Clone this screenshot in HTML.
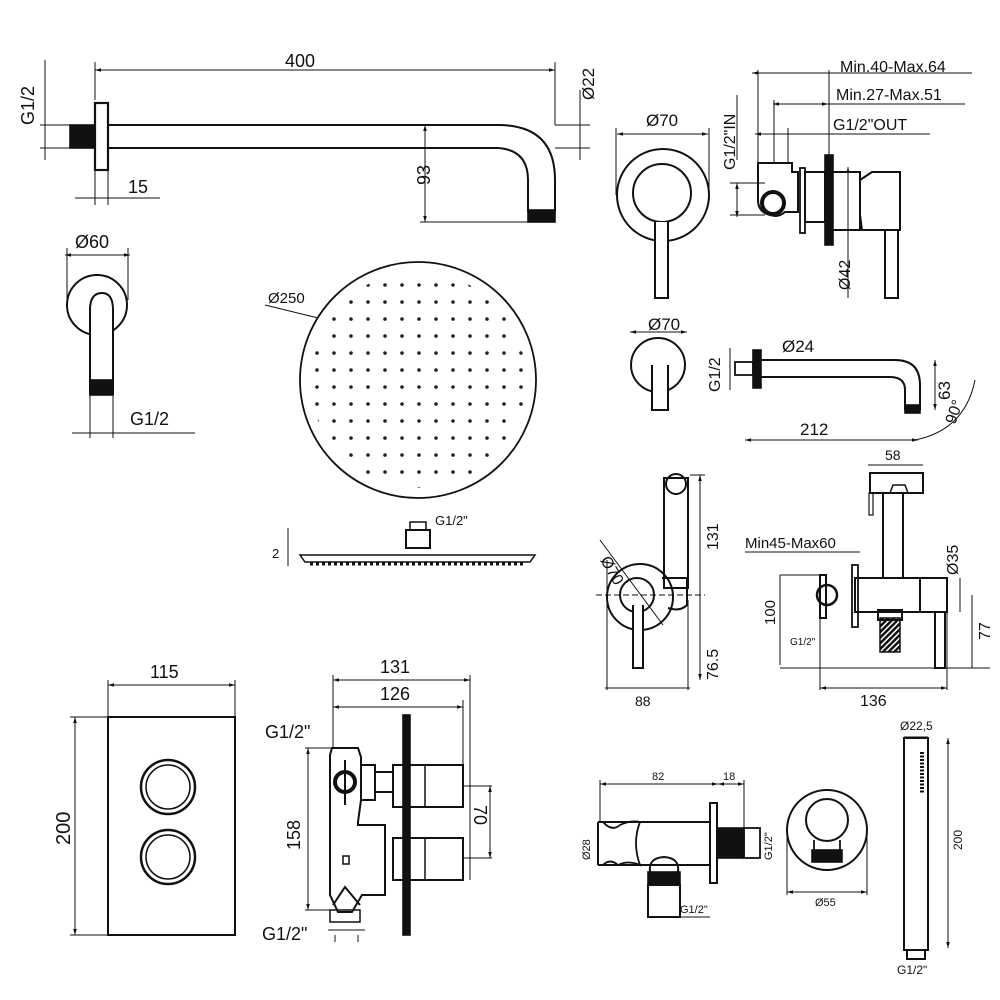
<!DOCTYPE html>
<html><head><meta charset="utf-8"><style>
html,body{margin:0;padding:0;background:#fff;width:1000px;height:1000px;overflow:hidden}
svg{display:block}
text{font-family:"Liberation Sans",sans-serif;fill:#111}
</style></head><body>
<svg width="1000" height="1000" viewBox="0 0 1000 1000" xmlns="http://www.w3.org/2000/svg">
<defs>
<marker id="a" viewBox="0 0 10 10" refX="10" refY="5" markerWidth="6" markerHeight="6" orient="auto-start-reverse"><path d="M0,2 L10,5 L0,8z" fill="#111"/></marker>
<pattern id="dots" width="17" height="17" patternUnits="userSpaceOnUse" x="3" y="5"><circle cx="8" cy="8" r="1.8" fill="#222"/></pattern>
<pattern id="hat" width="4" height="4" patternUnits="userSpaceOnUse" patternTransform="rotate(45)"><rect width="2.5" height="4" fill="#111"/></pattern>
<clipPath id="hc"><circle cx="418" cy="380" r="108"/></clipPath>
</defs>
<g stroke="#111" fill="none" stroke-width="1.6">
<!-- shower arm -->
<line x1="95" y1="70" x2="555" y2="70" stroke-width="1" marker-start="url(#a)" marker-end="url(#a)"/>
<line x1="95" y1="62" x2="95" y2="100" stroke-width="1"/><line x1="555" y1="62" x2="555" y2="125" stroke-width="1"/>
<rect x="70" y="125" width="25" height="23" fill="#111"/>
<rect x="95" y="103" width="13" height="67" stroke-width="2.2"/>
<path d="M108 125 H498 Q555 125 555 180 V212 M108 148 H498 Q528 150 528 180 V212" stroke-width="2"/>
<rect x="528" y="210" width="27" height="12" fill="#111"/>
<line x1="425" y1="125" x2="425" y2="222" stroke-width="1" marker-start="url(#a)" marker-end="url(#a)"/>
<line x1="420" y1="222" x2="528" y2="222" stroke-width="1"/>
<line x1="40" y1="125" x2="70" y2="125" stroke-width="1"/><line x1="40" y1="148" x2="70" y2="148" stroke-width="1"/>
<line x1="45" y1="60" x2="45" y2="160" stroke-width="1"/>
<line x1="580" y1="90" x2="580" y2="160" stroke-width="1"/>
<line x1="555" y1="125" x2="590" y2="125" stroke-width="1"/><line x1="555" y1="148" x2="590" y2="148" stroke-width="1"/>
<line x1="95" y1="170" x2="95" y2="205" stroke-width="1"/><line x1="108" y1="170" x2="108" y2="205" stroke-width="1"/>
<line x1="75" y1="198" x2="160" y2="198" stroke-width="1"/>
<!-- bracket -->
<line x1="65" y1="255" x2="130" y2="255" stroke-width="1" marker-start="url(#a)" marker-end="url(#a)"/>
<line x1="67" y1="248" x2="67" y2="300" stroke-width="1"/><line x1="128" y1="248" x2="128" y2="300" stroke-width="1"/>
<circle cx="97" cy="305" r="30" stroke-width="2"/>
<path d="M90 395 V310 Q90 293 102 293 Q113 293 113 310 V395" stroke-width="2" fill="#fff"/>
<rect x="90" y="380" width="23" height="15" fill="#111"/>
<line x1="90" y1="395" x2="90" y2="438" stroke-width="1"/><line x1="113" y1="395" x2="113" y2="438" stroke-width="1"/>
<line x1="72" y1="433" x2="195" y2="433" stroke-width="1"/>
<!-- head -->
<circle cx="418" cy="380" r="118" stroke-width="1.8"/>
<rect x="300" y="262" width="236" height="236" fill="url(#dots)" stroke="none" clip-path="url(#hc)"/>
<line x1="265" y1="305" x2="318" y2="318" stroke-width="1"/>
<path d="M300 555 H535 L530 562 H305 Z" stroke-width="1.5"/>
<line x1="310" y1="564" x2="525" y2="564" stroke-width="3" stroke-dasharray="3,3"/>
<rect x="406" y="530" width="24" height="18" stroke-width="2"/>
<rect x="410" y="522" width="16" height="8" stroke-width="1.5"/>
<line x1="288" y1="528" x2="288" y2="566" stroke-width="1"/>
<!-- mixer front -->
<line x1="617" y1="134" x2="708" y2="134" stroke-width="1" marker-start="url(#a)" marker-end="url(#a)"/>
<line x1="616" y1="128" x2="616" y2="195" stroke-width="1"/><line x1="709" y1="128" x2="709" y2="195" stroke-width="1"/>
<circle cx="663" cy="195" r="46" stroke-width="2"/><circle cx="662" cy="193" r="29" stroke-width="2"/>
<path d="M655 222 V298 H668 V222" stroke-width="2" fill="#fff"/>
<!-- mixer side -->
<line x1="752" y1="73" x2="830" y2="73" stroke-width="1" marker-start="url(#a)"/>
<line x1="830" y1="73" x2="972" y2="73" stroke-width="1"/>
<line x1="773" y1="104" x2="828" y2="104" stroke-width="1" marker-start="url(#a)" marker-end="url(#a)"/>
<line x1="828" y1="104" x2="965" y2="104" stroke-width="1"/>
<line x1="755" y1="134" x2="790" y2="134" stroke-width="1" marker-start="url(#a)"/>
<line x1="790" y1="134" x2="930" y2="134" stroke-width="1"/>
<line x1="758" y1="70" x2="758" y2="163" stroke-width="1"/><line x1="774" y1="100" x2="774" y2="163" stroke-width="1"/><line x1="788" y1="128" x2="788" y2="163" stroke-width="1"/><line x1="829" y1="70" x2="829" y2="155" stroke-width="1"/>
<line x1="737" y1="183" x2="737" y2="217" stroke-width="1" marker-start="url(#a)" marker-end="url(#a)"/>
<line x1="737" y1="95" x2="737" y2="160" stroke-width="1"/>
<line x1="730" y1="183" x2="765" y2="183" stroke-width="1"/><line x1="730" y1="215" x2="765" y2="215" stroke-width="1"/>
<path d="M758 163 H792 V172 H798 V212 H785 Q778 218 770 215 Q758 212 758 200 Z" stroke-width="2"/>
<circle cx="773" cy="203" r="11" stroke-width="4"/>
<rect x="800" y="168" width="5" height="65" stroke-width="1.8"/>
<rect x="805" y="172" width="20" height="50" stroke-width="2"/>
<rect x="825" y="155" width="8" height="90" fill="#111"/>
<path d="M833 172 H860 V230 H833" stroke-width="2"/>
<path d="M860 180 L872 172 H900 V230 H862 L860 215" stroke-width="2"/>
<path d="M885 230 V298 H898 V230" stroke-width="2"/>
<line x1="848" y1="167" x2="848" y2="298" stroke-width="1" marker-start="url(#a)"/>
<!-- small mixer 70 -->
<line x1="630" y1="332" x2="687" y2="332" stroke-width="1" marker-start="url(#a)" marker-end="url(#a)"/>
<circle cx="658" cy="365" r="27" stroke-width="2"/>
<path d="M652 365 V410 H668 V365" stroke-width="2" fill="#fff"/>
<!-- spout -->
<line x1="730" y1="348" x2="730" y2="390" stroke-width="1"/>
<rect x="735" y="362" width="18" height="13" stroke-width="1.8"/>
<rect x="753" y="350" width="8" height="38" fill="#111"/>
<path d="M761 360 H895 Q920 360 920 385 V410 M761 377 H890 Q905 377 905 390 V410" stroke-width="2"/>
<rect x="905" y="405" width="15" height="8" fill="#111"/>
<line x1="745" y1="440" x2="918" y2="440" stroke-width="1" marker-start="url(#a)" marker-end="url(#a)"/>
<line x1="935" y1="360" x2="935" y2="410" stroke-width="1" marker-start="url(#a)" marker-end="url(#a)"/>
<path d="M915 440 Q965 430 975 380" stroke-width="1"/>
<!-- hand shower holder -->
<line x1="607" y1="560" x2="607" y2="690" stroke-width="1"/>
<line x1="688" y1="600" x2="688" y2="690" stroke-width="1"/>
<line x1="690" y1="475" x2="705" y2="475" stroke-width="1"/>
<line x1="700" y1="475" x2="700" y2="680" stroke-width="1" marker-start="url(#a)" marker-end="url(#a)"/>
<line x1="605" y1="688" x2="690" y2="688" stroke-width="1"/>
<line x1="596" y1="595" x2="705" y2="595" stroke-width="1" stroke-dasharray="6,3"/>
<rect x="664" y="478" width="24" height="110" stroke-width="2"/>
<circle cx="676" cy="484" r="10" stroke-width="2"/>
<circle cx="640" cy="597" r="33" stroke-width="2"/><circle cx="637" cy="595" r="17" stroke-width="2"/>
<path d="M662 578 H687 V605 Q680 612 668 608" stroke-width="2"/>
<path d="M633 605 V668 H643 V605" stroke-width="2" fill="#fff"/>
<line x1="600" y1="540" x2="663" y2="625" stroke-width="1"/>
<!-- bidet tap -->
<rect x="870" y="473" width="53" height="20" stroke-width="2"/>
<path d="M890 493 L893 485 L905 485 L908 493" stroke-width="1.5"/>
<rect x="869" y="493" width="4" height="22" stroke-width="1.2"/>
<path d="M883 493 V578 M903 493 V578" stroke-width="2"/>
<rect x="855" y="578" width="65" height="34" stroke-width="2"/>
<rect x="920" y="578" width="27" height="34" stroke-width="2"/>
<rect x="852" y="565" width="6" height="62" stroke-width="1.8"/>
<rect x="820" y="575" width="6" height="43" stroke-width="2"/>
<circle cx="827" cy="595" r="10" stroke-width="2.5"/>
<rect x="880" y="618" width="20" height="34" fill="url(#hat)" stroke-width="1.5"/>
<rect x="878" y="610" width="24" height="10" stroke-width="2"/>
<path d="M935 612 V668 H945 V612" stroke-width="2"/>
<line x1="780" y1="575" x2="780" y2="665" stroke-width="1"/>
<line x1="780" y1="575" x2="820" y2="575" stroke-width="1"/>
<line x1="780" y1="668" x2="990" y2="668" stroke-width="1"/>
<line x1="820" y1="575" x2="820" y2="690" stroke-width="1"/><line x1="947" y1="690" x2="947" y2="612" stroke-width="1"/>
<line x1="820" y1="688" x2="947" y2="688" stroke-width="1" marker-start="url(#a)" marker-end="url(#a)"/>
<line x1="960" y1="578" x2="960" y2="612" stroke-width="1"/>
<line x1="972" y1="595" x2="972" y2="668" stroke-width="1"/>
<line x1="745" y1="552" x2="860" y2="552" stroke-width="1"/>
<line x1="868" y1="465" x2="923" y2="465" stroke-width="1"/>
<!-- thermostat plate -->
<line x1="108" y1="685" x2="235" y2="685" stroke-width="1" marker-start="url(#a)" marker-end="url(#a)"/>
<line x1="108" y1="680" x2="108" y2="717" stroke-width="1"/><line x1="235" y1="680" x2="235" y2="717" stroke-width="1"/>
<line x1="75" y1="717" x2="75" y2="935" stroke-width="1" marker-start="url(#a)" marker-end="url(#a)"/>
<line x1="70" y1="717" x2="108" y2="717" stroke-width="1"/><line x1="70" y1="935" x2="108" y2="935" stroke-width="1"/>
<rect x="108" y="717" width="127" height="218" stroke-width="2"/>
<circle cx="168" cy="787" r="27" stroke-width="2.5"/><circle cx="168" cy="787" r="22" stroke-width="1.5"/>
<circle cx="168" cy="857" r="27" stroke-width="2.5"/><circle cx="168" cy="857" r="22" stroke-width="1.5"/>
<!-- thermostat valve -->
<line x1="333" y1="680" x2="470" y2="680" stroke-width="1" marker-start="url(#a)" marker-end="url(#a)"/>
<line x1="333" y1="707" x2="463" y2="707" stroke-width="1" marker-start="url(#a)" marker-end="url(#a)"/>
<line x1="333" y1="675" x2="333" y2="748" stroke-width="1"/><line x1="470" y1="675" x2="470" y2="880" stroke-width="1"/><line x1="463" y1="700" x2="463" y2="765" stroke-width="1"/>
<line x1="308" y1="748" x2="308" y2="910" stroke-width="1" marker-start="url(#a)" marker-end="url(#a)"/>
<line x1="305" y1="748" x2="335" y2="748" stroke-width="1"/><line x1="305" y1="910" x2="335" y2="910" stroke-width="1"/>
<line x1="490" y1="786" x2="490" y2="858" stroke-width="1" marker-start="url(#a)" marker-end="url(#a)"/>
<line x1="430" y1="786" x2="492" y2="786" stroke-width="1"/><line x1="440" y1="858" x2="492" y2="858" stroke-width="1"/>
<path d="M332 748 H358 L361 757 V800 L358 822 V825 H385 V895 H362 L352 912 H338 L330 895 V755 Z" stroke-width="2"/>
<path d="M333 905 L345 887 L360 905" stroke-width="2"/>
<rect x="330" y="910" width="30" height="12" stroke-width="1.5"/>
<circle cx="345" cy="782" r="10" stroke-width="4"/>
<line x1="345" y1="760" x2="345" y2="805" stroke-width="2"/>
<path d="M361 765 H375 V800 H361" stroke-width="2"/>
<rect x="375" y="772" width="20" height="20" stroke-width="2"/>
<rect x="343" y="856" width="6" height="8" stroke-width="1.5"/>
<rect x="393" y="765" width="70" height="42" stroke-width="2" fill="#fff"/>
<rect x="393" y="838" width="70" height="42" stroke-width="2" fill="#fff"/>
<line x1="425" y1="765" x2="425" y2="807" stroke-width="1.5"/><line x1="425" y1="838" x2="425" y2="880" stroke-width="1.5"/>
<rect x="403" y="715" width="7" height="220" fill="#111"/>
<line x1="328" y1="930" x2="365" y2="930" stroke-width="1"/>
<line x1="335" y1="935" x2="335" y2="942" stroke-width="1"/><line x1="358" y1="935" x2="358" y2="942" stroke-width="1"/>
<!-- bidet valve -->
<line x1="600" y1="784" x2="718" y2="784" stroke-width="1" marker-start="url(#a)" marker-end="url(#a)"/>
<line x1="718" y1="784" x2="744" y2="784" stroke-width="1" marker-start="url(#a)" marker-end="url(#a)"/>
<line x1="600" y1="780" x2="600" y2="822" stroke-width="1"/><line x1="744" y1="780" x2="744" y2="828" stroke-width="1"/>
<path d="M598 822 H710 M598 865 H710 M598 822 V865" stroke-width="2"/>
<path d="M603 822 Q612 832 620 825 Q630 820 640 822 Q632 843 640 865 Q628 860 618 865 Q610 858 603 865" stroke-width="1.8"/>
<rect x="710" y="803" width="7" height="80" stroke-width="2"/>
<rect x="718" y="828" width="26" height="30" fill="#111"/>
<rect x="744" y="828" width="16" height="30" stroke-width="1.8"/>
<path d="M650 872 Q648 858 664 857 Q680 858 678 872" stroke-width="2"/>
<rect x="648" y="872" width="32" height="13" fill="#111"/>
<rect x="648" y="885" width="32" height="32" stroke-width="2"/>
<line x1="648" y1="917" x2="710" y2="917" stroke-width="1"/>
<!-- wall outlet -->
<circle cx="827" cy="830" r="40" stroke-width="2"/><circle cx="827" cy="820" r="21" stroke-width="2"/>
<rect x="812" y="850" width="30" height="12" fill="#111"/>
<path d="M814 840 V850 M840 840 V850" stroke-width="1.8"/>
<line x1="787" y1="830" x2="787" y2="895" stroke-width="1"/><line x1="867" y1="830" x2="867" y2="895" stroke-width="1"/>
<line x1="787" y1="892" x2="867" y2="892" stroke-width="1" marker-start="url(#a)" marker-end="url(#a)"/>
<!-- hand shower -->
<line x1="904" y1="737" x2="928" y2="737" stroke-width="1"/>
<rect x="904" y="738" width="24" height="212" stroke-width="2"/>
<line x1="922" y1="752" x2="922" y2="793" stroke-width="4" stroke-dasharray="2,1.5"/>
<rect x="907" y="950" width="18" height="9" stroke-width="2"/>
<line x1="948" y1="738" x2="948" y2="948" stroke-width="1" marker-start="url(#a)" marker-end="url(#a)"/>
</g>
<g font-size="18">
<text x="285" y="67">400</text>
<text x="35" y="138" transform="rotate(-90 28 132)">G1/2</text>
<text x="582" y="112" transform="rotate(-90 582 100)" font-size="17">Ø22</text>
<text x="415" y="200" transform="rotate(-90 415 185)">93</text>
<text x="128" y="193">15</text>
<text x="75" y="248">Ø60</text>
<text x="130" y="425">G1/2</text>
<text x="268" y="303" font-size="15">Ø250</text>
<text x="435" y="525" font-size="13">G1/2"</text>
<text x="272" y="558" font-size="13">2</text>
<text x="646" y="126" font-size="17">Ø70</text>
<text x="840" y="72" font-size="16">Min.40-Max.64</text>
<text x="836" y="100" font-size="16">Min.27-Max.51</text>
<text x="833" y="130" font-size="16">G1/2"OUT</text>
<text x="735" y="170" transform="rotate(-90 735 170)" font-size="16">G1/2"IN</text>
<text x="850" y="290" transform="rotate(-90 850 290)" font-size="16">Ø42</text>
<text x="648" y="330" font-size="17">Ø70</text>
<text x="720" y="392" transform="rotate(-90 720 392)" font-size="16">G1/2</text>
<text x="782" y="352" font-size="17">Ø24</text>
<text x="950" y="400" transform="rotate(-90 950 400)" font-size="17">63</text>
<text x="955" y="425" transform="rotate(-70 955 425)" font-size="16">90°</text>
<text x="800" y="435" font-size="17">212</text>
<text x="885" y="460" font-size="14">58</text>
<text x="718" y="550" transform="rotate(-90 718 550)" font-size="16">131</text>
<text x="600" y="560" transform="rotate(60 600 560)" font-size="16">Ø70</text>
<text x="718" y="680" transform="rotate(-90 718 680)" font-size="16">76.5</text>
<text x="635" y="706" font-size="14">88</text>
<text x="745" y="548" font-size="15">Min45-Max60</text>
<text x="958" y="575" transform="rotate(-90 958 575)" font-size="16">Ø35</text>
<text x="775" y="625" transform="rotate(-90 775 625)" font-size="15">100</text>
<text x="790" y="645" font-size="10">G1/2"</text>
<text x="990" y="640" transform="rotate(-90 990 640)" font-size="16">77</text>
<text x="860" y="706" font-size="16">136</text>
<text x="150" y="678">115</text>
<text x="70" y="845" transform="rotate(-90 70 845)" font-size="20">200</text>
<text x="380" y="673">131</text>
<text x="380" y="700">126</text>
<text x="265" y="738">G1/2"</text>
<text x="300" y="850" transform="rotate(-90 300 850)">158</text>
<text x="474" y="805" transform="rotate(90 474 805)">70</text>
<text x="262" y="940">G1/2"</text>
<text x="652" y="780" font-size="11">82</text>
<text x="723" y="780" font-size="11">18</text>
<text x="590" y="860" transform="rotate(-90 590 860)" font-size="11">Ø28</text>
<text x="772" y="860" transform="rotate(-90 772 860)" font-size="11">G1/2"</text>
<text x="680" y="913" font-size="11">G1/2"</text>
<text x="815" y="906" font-size="11">Ø55</text>
<text x="900" y="730" font-size="12">Ø22,5</text>
<text x="962" y="850" transform="rotate(-90 962 850)" font-size="12">200</text>
<text x="897" y="974" font-size="12">G1/2"</text>
</g>
</svg>
</body></html>
